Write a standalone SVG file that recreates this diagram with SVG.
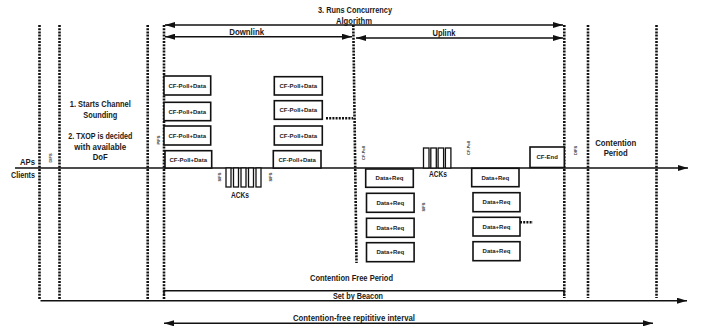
<svg xmlns="http://www.w3.org/2000/svg" width="707" height="333" viewBox="0 0 707 333">
<defs>
<marker id="ah" viewBox="0 0 10 6" refX="10" refY="3" markerWidth="10" markerHeight="6" markerUnits="userSpaceOnUse" orient="auto-start-reverse">
<path d="M0,0 L10,3 L0,6 Z" fill="#111"/>
</marker>
<style>
.dot{stroke:#111;stroke-width:2.6;stroke-dasharray:2 1.2;fill:none}
.ln{stroke:#111;stroke-width:1.5;fill:none}
.bx{stroke:#111;stroke-width:1.6;fill:#fff}
.ak{stroke:#111;stroke-width:1.3;fill:#fff}
text{font-family:"Liberation Sans",Arial,sans-serif;fill:#1a1a1a;font-weight:bold}
.t{font-size:9px;text-anchor:middle}
.s{font-size:6px;text-anchor:middle}
.v{font-size:4px;text-anchor:middle}
</style>
</defs>
<rect width="707" height="333" fill="#fff"/>

<g id="connectors">
<line class="dot" x1="39.5" y1="25" x2="39.5" y2="300"/>
<line class="dot" x1="59.5" y1="25" x2="59.5" y2="300"/>
<line class="dot" x1="147.7" y1="25" x2="147.7" y2="300"/>
<line class="dot" x1="164" y1="25" x2="164" y2="300"/>
<line class="dot" x1="353.3" y1="25" x2="356.5" y2="263"/>
<line class="dot" x1="564.3" y1="25" x2="564.3" y2="298"/>
<line class="dot" x1="588" y1="25" x2="588" y2="298"/>
<line class="dot" x1="656.5" y1="25" x2="656.5" y2="298"/>
<line class="dot" x1="326" y1="118.3" x2="353" y2="118.3"/>
<line class="dot" x1="520" y1="222.3" x2="533" y2="222.3"/>

<line class="ln" x1="15" y1="168" x2="688" y2="168" marker-end="url(#ah)"/>
<line class="ln" x1="40.5" y1="300.7" x2="687" y2="300.7" marker-end="url(#ah)"/>
<polyline class="ln" points="164,296 164,290.7 564,290.7 564,296"/>
<line class="ln" x1="164" y1="323.3" x2="653" y2="323.3" marker-start="url(#ah)" marker-end="url(#ah)"/>
<line class="ln" x1="165" y1="25" x2="563" y2="25" marker-start="url(#ah)" marker-end="url(#ah)"/>
<line class="ln" x1="165" y1="36.7" x2="352" y2="36.7" marker-start="url(#ah)" marker-end="url(#ah)"/>
<line class="ln" x1="356" y1="38" x2="563" y2="38" marker-start="url(#ah)" marker-end="url(#ah)"/>
</g>

<g id="labels">
<text class="t" x="355" y="13" textLength="74" lengthAdjust="spacingAndGlyphs">3. Runs Concurrency</text>
<text class="t" x="354" y="23.5" textLength="36" lengthAdjust="spacingAndGlyphs">Algorithm</text>
<text class="t" x="246.7" y="35" textLength="35" lengthAdjust="spacingAndGlyphs">Downlink</text>
<text class="t" x="444" y="36" textLength="23" lengthAdjust="spacingAndGlyphs">Uplink</text>
<text class="t" x="100.3" y="107" textLength="61" lengthAdjust="spacingAndGlyphs">1. Starts Channel</text>
<text class="t" x="100.3" y="118" textLength="34" lengthAdjust="spacingAndGlyphs">Sounding</text>
<text class="t" x="100.3" y="139" textLength="64" lengthAdjust="spacingAndGlyphs">2. TXOP is decided</text>
<text class="t" x="100.3" y="149.5" textLength="52" lengthAdjust="spacingAndGlyphs">with  available</text>
<text class="t" x="100.3" y="159.8" textLength="15" lengthAdjust="spacingAndGlyphs">DoF</text>
<text class="t" x="35" y="165" style="text-anchor:end" textLength="15" lengthAdjust="spacingAndGlyphs">APs</text>
<text class="t" x="35" y="178" style="text-anchor:end" textLength="24" lengthAdjust="spacingAndGlyphs">Clients</text>
<text class="t" x="615.7" y="145.8" textLength="41" lengthAdjust="spacingAndGlyphs">Contention</text>
<text class="t" x="615.7" y="156.3" textLength="24" lengthAdjust="spacingAndGlyphs">Period</text>
<text class="t" x="240" y="197.5" textLength="18" lengthAdjust="spacingAndGlyphs">ACKs</text>
<text class="t" x="438" y="177" textLength="18" lengthAdjust="spacingAndGlyphs">ACKs</text>
<text class="t" x="351.5" y="281.3" textLength="83" lengthAdjust="spacingAndGlyphs">Contention Free Period</text>
<text class="t" x="358" y="299" textLength="50" lengthAdjust="spacingAndGlyphs">Set by Beacon</text>
<text class="t" x="354" y="320.5" textLength="122" lengthAdjust="spacingAndGlyphs">Contention-free repititive interval</text>
<text class="v" transform="translate(51.5,158) rotate(-90)">DIFS</text>
<text class="v" transform="translate(159.5,140) rotate(-90)">PIFS</text>
<text class="v" transform="translate(221,177) rotate(-90)">SIFS</text>
<text class="v" transform="translate(271.5,177) rotate(-90)">SIFS</text>
<text class="v" transform="translate(364.5,153) rotate(-90)">CF-Poll</text>
<text class="v" transform="translate(469.5,148) rotate(-90)">CF-Poll</text>
<text class="v" transform="translate(424.5,207) rotate(-90)">SIFS</text>
<text class="v" transform="translate(576.5,150.5) rotate(-90)">DIFS</text>
</g>

<g id="dl-col1">
<rect class="bx" x="164" y="76" width="46.7" height="19"/><text class="s" x="187.3" y="87.6">CF-Poll+Data</text>
<rect class="bx" x="164" y="102.3" width="46.7" height="18.4"/><text class="s" x="187.3" y="113.6">CF-Poll+Data</text>
<rect class="bx" x="164" y="126" width="46.7" height="19"/><text class="s" x="187.3" y="137.6">CF-Poll+Data</text>
<rect class="bx" x="165" y="150.7" width="46.7" height="17.3"/><text class="s" x="188.3" y="161.5">CF-Poll+Data</text>
</g>
<g id="dl-col2">
<rect class="bx" x="274.3" y="76.7" width="48" height="18.3"/><text class="s" x="298.3" y="87.9">CF-Poll+Data</text>
<rect class="bx" x="274.3" y="100.7" width="48" height="18.6"/><text class="s" x="298.3" y="112.1">CF-Poll+Data</text>
<rect class="bx" x="274.3" y="126" width="48" height="19"/><text class="s" x="298.3" y="137.6">CF-Poll+Data</text>
<rect class="bx" x="273.3" y="150.7" width="47.7" height="17.3"/><text class="s" x="297.2" y="161.5">CF-Poll+Data</text>
</g>
<g id="dl-acks">
<rect class="ak" x="226" y="168" width="5" height="19"/>
<rect class="ak" x="233.5" y="168" width="5" height="19"/>
<rect class="ak" x="241" y="168" width="5" height="19"/>
<rect class="ak" x="248.5" y="168" width="5" height="19"/>
<rect class="ak" x="256" y="168" width="5" height="19"/>
</g>
<g id="ul-acks">
<rect class="ak" x="423.5" y="148" width="5.5" height="20"/>
<rect class="ak" x="430.8" y="148" width="5.5" height="20"/>
<rect class="ak" x="438.1" y="148" width="5.5" height="20"/>
<rect class="ak" x="445.4" y="148" width="5.5" height="20"/>
</g>
<g id="ul-col1">
<rect class="bx" x="365.7" y="169" width="47.6" height="18.3"/><text class="s" x="389.5" y="180.2">Data+Req</text>
<rect class="bx" x="366.5" y="193.3" width="47.6" height="19"/><text class="s" x="390.3" y="204.9">Data+Req</text>
<rect class="bx" x="366.5" y="218.3" width="47.6" height="19"/><text class="s" x="390.3" y="229.9">Data+Req</text>
<rect class="bx" x="366.5" y="242.7" width="47.6" height="19"/><text class="s" x="390.3" y="254.3">Data+Req</text>
</g>
<g id="ul-col2">
<rect class="bx" x="471.7" y="168.3" width="47.3" height="18.4"/><text class="s" x="495.3" y="179.6">Data+Req</text>
<rect class="bx" x="473" y="192.7" width="47" height="19"/><text class="s" x="496.5" y="204.3">Data+Req</text>
<rect class="bx" x="473" y="217.3" width="47" height="18.7"/><text class="s" x="496.5" y="228.7">Data+Req</text>
<rect class="bx" x="473" y="241.7" width="47" height="19"/><text class="s" x="496.5" y="253.3">Data+Req</text>
</g>
<g id="cf-end">
<rect class="bx" x="530" y="147" width="34.3" height="20.5"/><text class="s" x="547.2" y="159.4">CF-End</text>
</g>
</svg>
